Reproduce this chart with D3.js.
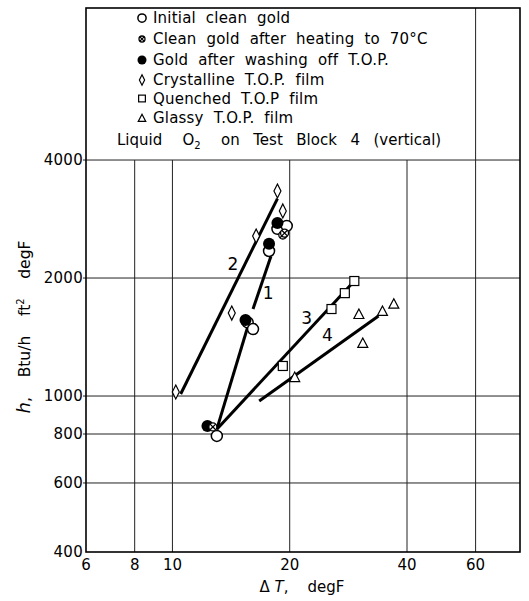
<!DOCTYPE html>
<html>
<head>
<meta charset="utf-8">
<script src="https://cdn.jsdelivr.net/npm/d3@7"></script>
<style>
  body { margin: 0; background: #fff; }
  svg { display: block; font-family: "DejaVu Sans", "Liberation Sans", sans-serif; }
</style>
</head>
<body>
<div id="chart"></div>
<script>
// tick values
const xTicks = [6, 8, 10, 20, 40, 60];
const yTicks = [400, 600, 800, 1000, 2000, 4000];

// measured points [deltaT, h]
const initialClean = [[13.0, 791], [15.6, 1541], [16.1, 1482], [17.7, 2344], [18.6, 2670], [19.65, 2716]];
const heated = [[12.7, 834], [19.2, 2575], [19.4, 2604]];
const washed = [[12.3, 839], [15.4, 1563], [17.7, 2445], [18.6, 2762]];
const crystalline = [[10.2, 1024], [14.2, 1628], [16.4, 2559], [18.6, 3334], [19.2, 2966]];
const quenched = [[19.2, 1193], [25.6, 1667], [27.7, 1830], [29.3, 1965]];
const glassy = [[20.6, 1118], [30.1, 1619], [30.8, 1366], [34.6, 1648], [37.0, 1720]];

// fitted lines
const line1a = [[13.0, 823], [15.6, 1500]];
const line1b = [[16.1, 1667], [17.9, 2273]];
const line2 = [[10.5, 1012], [18.6, 3190]];
const line3 = [[13.0, 823], [29.3, 1965]];
const line4 = [[16.7, 971], [33.8, 1600]];
const lineLabels = [['2', 14.3, 2170], ['1', 17.6, 1830], ['3', 22.1, 1581], ['4', 25.0, 1430]];

const legendItems = [
  ['circle', 'Initial  clean  gold'],
  ['cross', 'Clean  gold  after  heating  to  70°C'],
  ['filled', 'Gold  after  washing  off  T.O.P.'],
  ['diamond', 'Crystalline  T.O.P.  film'],
  ['square', 'Quenched  T.O.P  film'],
  ['triangle', 'Glassy  T.O.P.  film']
];

const width = 529, height = 601;
const mLeft = 86, mRight = 520, mTop = 8, mBottom = 552;

const x = d3.scaleLog().domain([6, 78]).range([mLeft, mRight]);
const y = d3.scaleLog().domain([400, 9770]).range([mBottom, mTop]);

const svg = d3.select('#chart').append('svg')
  .attr('width', width)
  .attr('height', height);

// grid
const y4000 = y(4000);
svg.append('g')
  .selectAll('line')
  .data(xTicks.filter(d => d > 6))
  .join('line')
    .attr('x1', d => x(d)).attr('x2', d => x(d))
    .attr('y1', mBottom).attr('y2', d => d === 60 ? mTop : y4000)
    .attr('stroke', '#222').attr('stroke-width', 1);

svg.append('g')
  .selectAll('line')
  .data(yTicks.filter(d => d > 400))
  .join('line')
    .attr('x1', mLeft - 3).attr('x2', mRight)
    .attr('y1', d => y(d)).attr('y2', d => y(d))
    .attr('stroke', '#222').attr('stroke-width', 1);

// frame
svg.append('rect')
  .attr('x', mLeft).attr('y', mTop)
  .attr('width', mRight - mLeft).attr('height', mBottom - mTop)
  .attr('fill', 'none').attr('stroke', '#000').attr('stroke-width', 1.6);

// tick labels
svg.append('g')
  .selectAll('text')
  .data(yTicks)
  .join('text')
    .attr('x', mLeft - 3)
    .attr('y', d => y(d) + 5)
    .attr('text-anchor', 'end')
    .attr('font-size', 15)
    .attr('letter-spacing', 0.3)
    .text(d => d);

svg.append('g')
  .selectAll('text')
  .data(xTicks)
  .join('text')
    .attr('x', d => x(d))
    .attr('y', mBottom + 18)
    .attr('text-anchor', 'middle')
    .attr('font-size', 15)
    .text(d => d);

// axis titles
const xt = svg.append('text')
  .attr('x', 302).attr('y', 592)
  .attr('text-anchor', 'middle')
  .attr('font-size', 15)
  .attr('xml:space', 'preserve');
xt.append('tspan').text('\u0394 ');
xt.append('tspan').attr('font-style', 'italic').text('T');
xt.append('tspan').text(',    degF');

const yt = svg.append('text')
  .attr('transform', `translate(30, ${y(1500)}) rotate(-90)`)
  .attr('text-anchor', 'middle')
  .attr('font-size', 15.5)
  .attr('xml:space', 'preserve');
yt.append('tspan').attr('font-style', 'italic').attr('font-size', 18).text('h');
yt.append('tspan').text(',    Btu/h    ft');
yt.append('tspan').attr('dy', -6).attr('font-size', 10).text('2');
yt.append('tspan').attr('dy', 6).text('    degF');

// fitted lines
const line = d3.line().x(d => x(d[0])).y(d => y(d[1]));
svg.append('g')
  .selectAll('path')
  .data([line1a, line1b, line2, line3, line4])
  .join('path')
    .attr('d', line)
    .attr('fill', 'none')
    .attr('stroke', '#000')
    .attr('stroke-width', 3);

svg.append('g')
  .selectAll('text')
  .data(lineLabels)
  .join('text')
    .attr('x', d => x(d[1]))
    .attr('y', d => y(d[2]) + 6)
    .attr('text-anchor', 'middle')
    .attr('font-size', 17)
    .text(d => d[0]);

// marker shapes
function drawMarker(g, kind, s) {
  s = s || 1;
  if (kind === 'circle') {
    g.append('circle').attr('r', 5.5 * s).attr('fill', '#fff').attr('stroke', '#000').attr('stroke-width', 1.5);
  } else if (kind === 'filled') {
    g.append('circle').attr('r', 6 * s).attr('fill', '#000');
  } else if (kind === 'cross') {
    const r = 4 * s;
    g.append('circle').attr('r', r).attr('fill', '#fff').attr('stroke', '#000').attr('stroke-width', 1.3);
    g.append('path').attr('d', `M${-r * 0.7},${-r * 0.7}L${r * 0.7},${r * 0.7}M${-r * 0.7},${r * 0.7}L${r * 0.7},${-r * 0.7}`)
      .attr('stroke', '#000').attr('stroke-width', 1.3);
  } else if (kind === 'diamond') {
    g.append('path').attr('d', `M0,${-7 * s}L${3.5 * s},0L0,${7 * s}L${-3.5 * s},0Z`)
      .attr('fill', '#fff').attr('stroke', '#000').attr('stroke-width', 1.2);
  } else if (kind === 'square') {
    g.append('rect').attr('x', -4.5 * s).attr('y', -4.5 * s).attr('width', 9 * s).attr('height', 9 * s)
      .attr('fill', '#fff').attr('stroke', '#000').attr('stroke-width', 1.2);
  } else if (kind === 'triangle') {
    g.append('path').attr('d', `M0,${-5 * s}L${5 * s},${4.5 * s}L${-5 * s},${4.5 * s}Z`)
      .attr('fill', '#fff').attr('stroke', '#000').attr('stroke-width', 1.2);
  }
}

const series = [
  ['diamond', crystalline], ['square', quenched], ['triangle', glassy],
  ['circle', initialClean], ['filled', washed], ['cross', heated]
];
series.forEach(([kind, pts]) => {
  svg.append('g')
    .selectAll('g')
    .data(pts)
    .join('g')
      .attr('transform', d => `translate(${x(d[0])},${y(d[1])})`)
      .each(function () { drawMarker(d3.select(this), kind); });
});

// legend
const legendY = [18, 39, 60, 80, 98.5, 118];
const lg = svg.append('g');
legendItems.forEach(([kind, label], i) => {
  const g = lg.append('g').attr('transform', `translate(142, ${legendY[i]})`);
  drawMarker(g, kind, 0.75);
  g.append('text')
    .attr('x', 11).attr('y', 5)
    .attr('font-size', 15)
    .attr('letter-spacing', 0.2)
    .attr('xml:space', 'preserve')
    .text(label);
});
const liq = lg.append('text')
  .attr('x', 117).attr('y', 145)
  .attr('font-size', 15)
  .attr('word-spacing', 2)
  .attr('xml:space', 'preserve');
liq.append('tspan').text('Liquid   O');
liq.append('tspan').attr('dy', 4).attr('font-size', 10).text('2');
liq.append('tspan').attr('dy', -4).text('   on  Test  Block  4  (vertical)');
</script>
</body>
</html>
